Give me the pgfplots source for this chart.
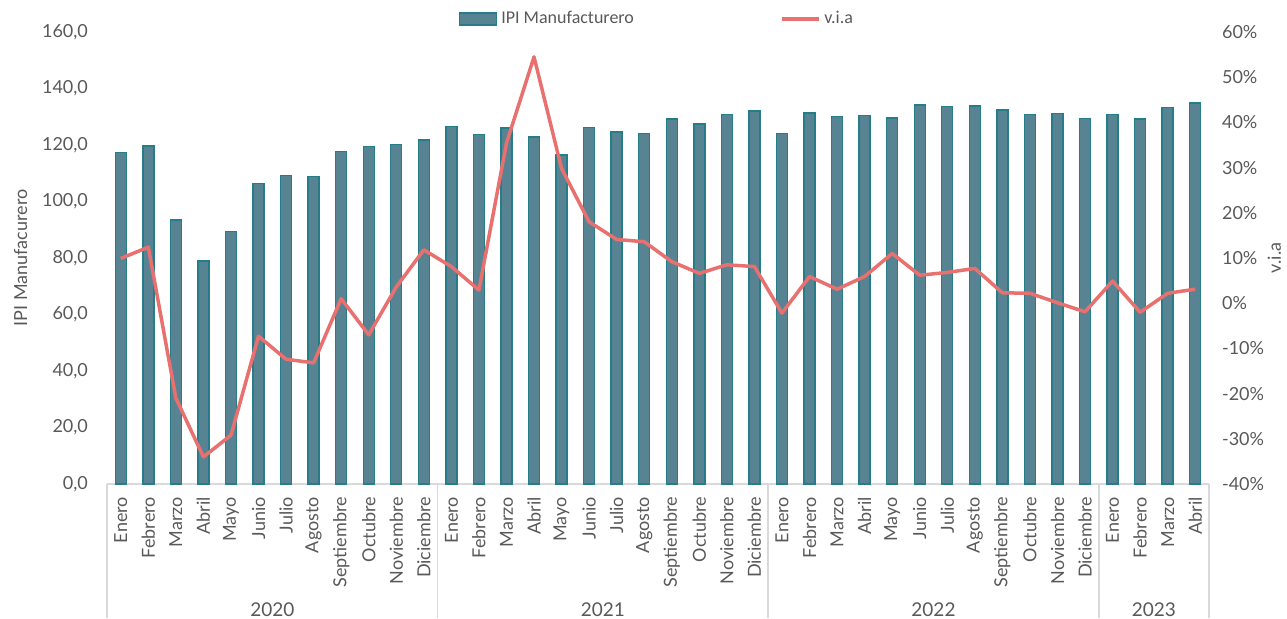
\documentclass[border=0pt]{standalone}
\usepackage{pgfplots}
\pgfplotsset{compat=1.18}
\usepackage{pgfplotstable}
\usepackage{fontspec}
\setmainfont{Lato}
\newfontfamily\legfont{Carlito}

\definecolor{barfill}{RGB}{88,131,147}
\definecolor{baredge}{RGB}{36,125,136}
\definecolor{linered}{RGB}{232,113,112}
\definecolor{txt}{RGB}{89,89,89}
\definecolor{sep}{RGB}{217,217,217}

% idx, IPI manufacturero, variacion interanual (%)
\pgfplotstableread{
idx ipi via
0 117.3 9.9
1 119.6 12.4
2 93.5 -21.0
3 79.0 -34.0
4 89.3 -29.2
5 106.3 -7.3
6 109.1 -12.4
7 108.8 -13.2
8 117.6 1.0
9 119.4 -7.0
10 120.2 3.6
11 121.8 11.8
12 126.6 8.1
13 123.7 2.9
14 126.0 35.4
15 122.8 54.5
16 116.5 29.8
17 126.3 18.0
18 124.6 14.1
19 124.0 13.6
20 129.2 9.2
21 127.5 6.6
22 130.7 8.5
23 132.0 8.1
24 124.0 -2.2
25 131.3 5.9
26 130.0 3.1
27 130.4 5.9
28 129.6 11.0
29 134.2 6.2
30 133.6 6.8
31 133.8 7.7
32 132.4 2.3
33 130.7 2.2
34 131.1 0.1
35 129.4 -1.9
36 130.7 4.9
37 129.2 -2.0
38 133.2 2.2
39 134.9 3.1
}\datos

\pgfplotsset{
  base/.style={
    scale only axis, width=551pt, height=226pt,
    xmin=-0.5, xmax=39.5,
    clip=false,
    major tick length=0pt,
    tick label style={text=txt, font=\fontsize{9}{10}\selectfont},
    /pgf/number format/assume math mode=true,
  }
}

\begin{document}
\begin{tikzpicture}
\useasboundingbox (0,0) rectangle (643.5pt,309pt);

\begin{axis}[base,
  at={(53.5pt,67pt)}, anchor=south west,
  ybar, bar width=5.5pt,
  ymin=0, ymax=160, ytick={0,20,...,160},
  axis x line*=bottom, axis y line*=left,
  x axis line style={draw=sep, line width=0.8pt},
  y axis line style={draw=none},
  y tick label style={xshift=-6pt, /pgf/number format/.cd, fixed, fixed zerofill, precision=1, use comma, 1000 sep={}},
  xtick={0,...,39},
  xticklabels={Enero,Febrero,Marzo,Abril,Mayo,Junio,Julio,Agosto,Septiembre,Octubre,Noviembre,Diciembre,
    Enero,Febrero,Marzo,Abril,Mayo,Junio,Julio,Agosto,Septiembre,Octubre,Noviembre,Diciembre,
    Enero,Febrero,Marzo,Abril,Mayo,Junio,Julio,Agosto,Septiembre,Octubre,Noviembre,Diciembre,
    Enero,Febrero,Marzo,Abril},
  x tick label style={rotate=90, anchor=east, xshift=-3pt},
  extra x ticks={-0.5,11.5,23.5,35.5,39.5},
  extra x tick labels={},
  extra x tick style={major tick length=67pt, tick align=outside, major tick style={draw=sep, line width=0.8pt}},
  ylabel={IPI Manufacurero},
  ylabel style={text=txt, font=\fontsize{9}{10}\selectfont, yshift=0.5pt},
]
\addplot[fill=barfill, draw=baredge, line width=0.7pt] table[x=idx, y=ipi] {\datos};
\node[text=txt, font=\fontsize{9.5}{11}\selectfont, anchor=base] at (axis cs:5.5,0) [yshift=-66pt] {2020};
\node[text=txt, font=\fontsize{9.5}{11}\selectfont, anchor=base] at (axis cs:17.5,0) [yshift=-66pt] {2021};
\node[text=txt, font=\fontsize{9.5}{11}\selectfont, anchor=base] at (axis cs:29.5,0) [yshift=-66pt] {2022};
\node[text=txt, font=\fontsize{9.5}{11}\selectfont, anchor=base] at (axis cs:37.5,0) [yshift=-66pt] {2023};
\end{axis}

\begin{axis}[base,
  at={(53.5pt,67pt)}, anchor=south west,
  ymin=-40, ymax=60, ytick={-40,-30,...,60},
  axis x line=none, axis y line*=right,
  y axis line style={draw=none},
  xtick=\empty,
  yticklabel={\pgfmathprintnumber{\tick}\%},
  yticklabel style={xshift=3pt},
  ylabel={v.i.a},
  ylabel style={text=txt, font=\fontsize{9}{10}\selectfont, yshift=5pt},
  legend style={at={(0.5,1)}, anchor=center, yshift=6.5pt, draw=none, fill=none,
    font=\legfont\fontsize{9}{11}\selectfont, text=txt},
  legend columns=2,
  legend cell align=left,
  /tikz/every even column/.append style={column sep=71pt},
]
\addlegendimage{legend image code/.code={\draw[fill=barfill, draw=baredge, line width=0.6pt] (0pt,-3pt) rectangle (18.5pt,3pt);}}
\addlegendentry{IPI Manufacturero}
\addplot[linered, line width=1.75pt, line join=round, mark=none,
  legend image code/.code={\draw[linered, line width=1.75pt] (0pt,0pt) -- (18.5pt,0pt);}]
  table[x=idx, y=via] {\datos};
\addlegendentry{v.i.a}
\end{axis}
\end{tikzpicture}
\end{document}
